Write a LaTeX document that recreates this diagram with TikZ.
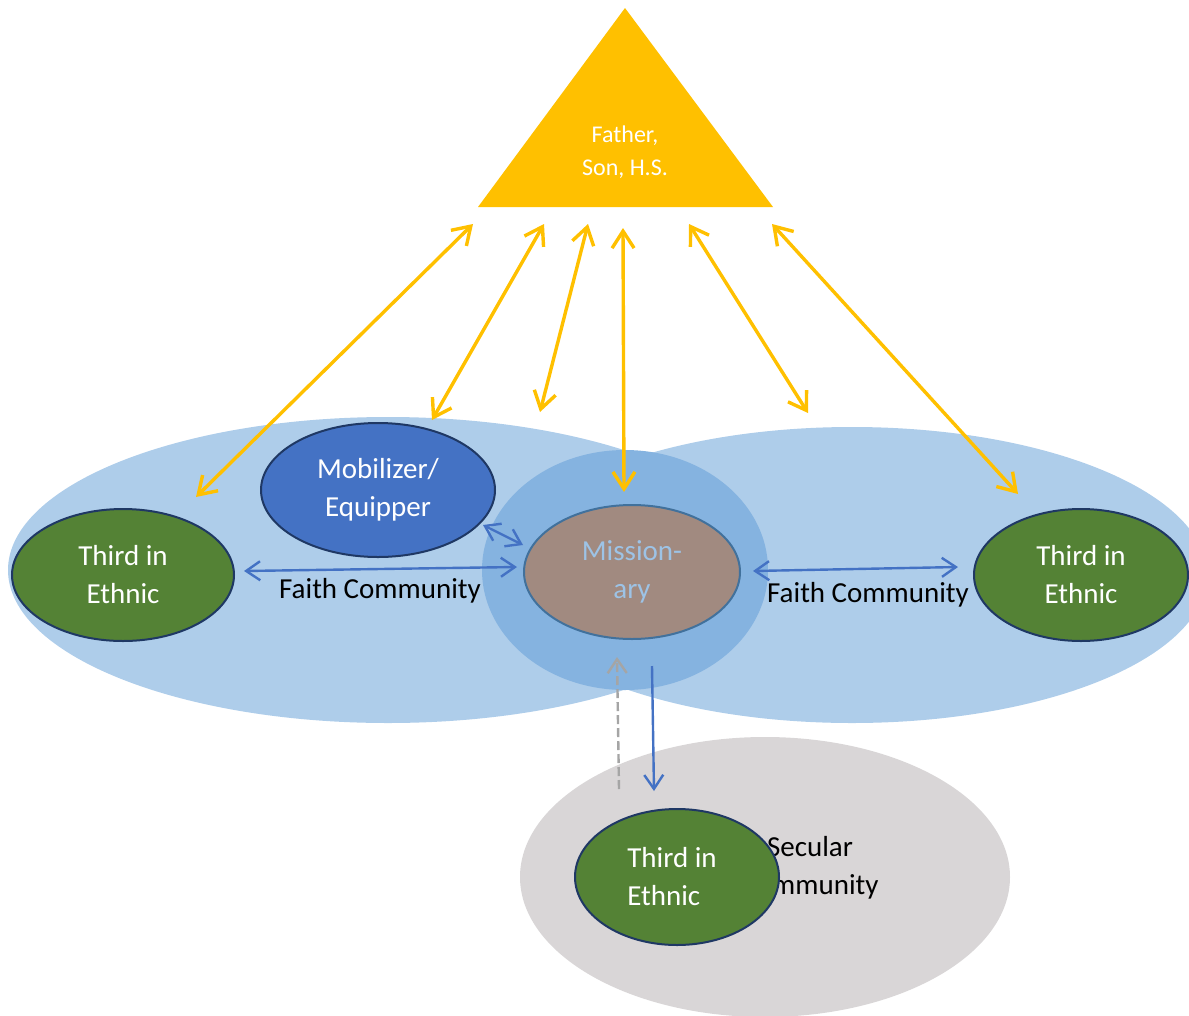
\documentclass[tikz,border=0pt]{standalone}
\usepackage{fontspec}
\setmainfont{Carlito}
\usetikzlibrary{arrows.meta,shapes.geometric}

\definecolor{cloudblue}{RGB}{174,205,234}
\definecolor{coreblue}{RGB}{133,179,224}
\definecolor{secgray}{RGB}{217,214,215}
\definecolor{gold}{RGB}{255,192,0}
\definecolor{mobblue}{RGB}{68,114,196}
\definecolor{navy}{RGB}{31,56,100}
\definecolor{brownish}{RGB}{161,138,128}
\definecolor{missedge}{RGB}{65,113,156}
\definecolor{misstext}{RGB}{157,195,230}
\definecolor{leaf}{RGB}{84,130,53}
\definecolor{linkblue}{RGB}{68,114,196}
\definecolor{dashgray}{RGB}{165,165,165}

\begin{document}
\begin{tikzpicture}[x=1pt,y=-1pt,
  bigfont/.style={font=\fontsize{29}{38}\selectfont},
  oval/.style={ellipse, inner sep=0pt, align=center, line width=2pt, bigfont},
  thirdnode/.style={oval, draw=navy, fill=leaf, text=white},
  mobnode/.style={oval, draw=navy, fill=mobblue, text=white},
  missnode/.style={oval, draw=missedge, fill=brownish, text=misstext},
  caption/.style={inner sep=0pt, align=center, text=black, bigfont},
  goldlink/.style={draw=gold, line width=3.4pt,
    {Straight Barb[length=17pt,width=22pt]}-{Straight Barb[length=17pt,width=22pt]}},
  bluelink/.style={draw=linkblue, line width=2.4pt,
    {Straight Barb[length=14pt,width=19pt]}-{Straight Barb[length=14pt,width=19pt]}},
  bluedown/.style={draw=linkblue, line width=2.4pt, -{Straight Barb[length=14pt,width=19pt]}},
  grayup/.style={draw=dashgray, line width=2.4pt, dash pattern=on 9pt off 4pt,
    -{Straight Barb[length=14pt,width=19pt]}}
]
\useasboundingbox (0,0) rectangle (1189,1015);

% communities
\fill[cloudblue] (388,570) ellipse [x radius=380, y radius=153];
\fill[cloudblue] (852,575) ellipse [x radius=355, y radius=148];
\fill[coreblue] (625,570) ellipse [x radius=143, y radius=120];
\fill[secgray] (765,877) ellipse [x radius=245, y radius=140];

% trinity
\fill[gold] (625,8) -- (773,207) -- (478,207) -- cycle;
\node[inner sep=0pt, align=center, text=white,
  font=\fontsize{24}{33}\selectfont] (god) at (625,152) {Father,\\Son, H.S.};

% labels
\node[caption] (fcl) at (380,591) {Faith Community};
\node[caption] (fcr) at (868,595) {Faith Community};
\node[caption] (sec) at (810,868) {Secular\\Community};

% people
\node[thirdnode, minimum width=222pt, minimum height=132pt] (tl) at (123,575) {Third in\\Ethnic};
\node[thirdnode, minimum width=214pt, minimum height=132pt] (tr) at (1081,575) {Third in\\Ethnic};
\node[thirdnode, minimum width=204pt, minimum height=136pt, align=left] (tb) at (677,877)
  {\hspace*{-10pt}Third in\\\hspace*{-10pt}Ethnic};
\node[mobnode, minimum width=234pt, minimum height=134pt] (mob) at (378,490) {Mobilizer/\\Equipper};
\node[missnode, minimum width=216pt, minimum height=134pt] (miss) at (632,572) {\raisebox{-3pt}{Mission-}\\\raisebox{-3pt}{ary}};

% link end points
\coordinate (g1) at (473,224);  \coordinate (e1) at (196,497);
\coordinate (g2) at (544,224);  \coordinate (e2) at (432,420);
\coordinate (g3) at (588,224);  \coordinate (e3) at (540,412);
\coordinate (g4) at (623,228);  \coordinate (e4) at (624,492);
\coordinate (g5) at (689,224);  \coordinate (e5) at (808,413);
\coordinate (g6) at (772,224);  \coordinate (e6) at (1018,494);

\coordinate (fl1) at (244,571); \coordinate (fl2) at (517,567);
\coordinate (fr1) at (753,571); \coordinate (fr2) at (958,567);
\coordinate (m1) at (483,525);  \coordinate (m2) at (523,545);
\coordinate (d1) at (652,666);  \coordinate (d2) at (654,791);
\coordinate (u1) at (619,789);  \coordinate (u2) at (617,657);

% links to the trinity
\draw[goldlink] (g1) -- (e1);
\draw[goldlink] (g2) -- (e2);
\draw[goldlink] (g3) -- (e3);
\draw[goldlink] (g4) -- (e4);
\draw[goldlink] (g5) -- (e5);
\draw[goldlink] (g6) -- (e6);

% community links
\draw[bluelink] (fl1) -- (fl2);
\draw[bluelink] (fr1) -- (fr2);
\draw[bluelink] (m1) -- (m2);
\draw[bluedown] (d1) -- (d2);
\draw[grayup] (u1) -- (u2);
\end{tikzpicture}
\end{document}
